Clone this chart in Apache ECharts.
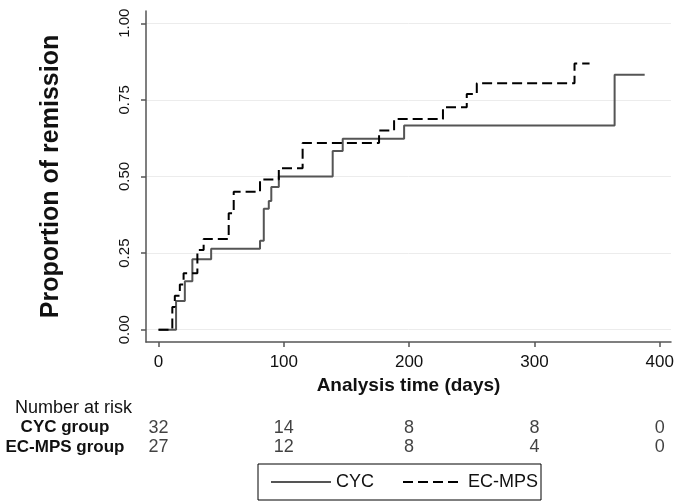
<!DOCTYPE html>
<html>
<head>
<meta charset="utf-8">
<script src="https://cdn.jsdelivr.net/npm/echarts@6/dist/echarts.min.js"></script>
<style>html,body{margin:0;padding:0;background:#fff}#c{width:679px;height:501px}</style>
</head>
<body>
<div id="c"></div>
<script>
// Kaplan-Meier steps: [time (days), proportion]
const cycTimes  = [0, 14, 21, 27, 42, 81, 84, 88, 90, 96, 139, 147, 196, 364, 388];
const cycValues = [0, 0.094, 0.158, 0.23, 0.264, 0.29, 0.395, 0.42, 0.466, 0.5, 0.583, 0.623, 0.666, 0.832, 0.832];
const ecTimes   = [0, 11, 13, 17, 20, 31, 36, 56, 60, 81, 96, 115, 176, 188, 227, 246, 254, 332, 344];
const ecValues  = [0, 0.074, 0.111, 0.148, 0.184, 0.26, 0.296, 0.38, 0.45, 0.49, 0.527, 0.609, 0.65, 0.688, 0.726, 0.769, 0.804, 0.869, 0.869];
const seriesNames = ['CYC', 'EC-MPS'];
const xTicks = [0, 100, 200, 300, 400];
const yTicks = [0, 0.25, 0.5, 0.75, 1];
const riskGroups = ['CYC group', 'EC-MPS group'];
const riskCYC = [32, 14, 8, 8, 0];
const riskEC  = [27, 12, 8, 4, 0];

const SANS = '"Liberation Sans", Arial, sans-serif';

const toPairs = (t, v) => t.map((x, i) => [x, v[i]]);
const riskData = [];
xTicks.forEach((t, i) => {
  riskData.push([t, riskGroups[0], riskCYC[i]]);
  riskData.push([t, riskGroups[1], riskEC[i]]);
});

const chart = echarts.init(document.getElementById('c'), null, {renderer: 'canvas'});
chart.setOption({
  animation: false,
  backgroundColor: '#fff',
  title: {
    text: 'Number at risk', left: 10, top: 394,
    textStyle: {fontFamily: SANS, fontWeight: 'normal', fontSize: 18, color: '#111'}
  },
  legend: {
    data: seriesNames,
    left: 258, top: 464,
    padding: [9, 3, 9, 12],
    itemWidth: 60, itemHeight: 14, itemGap: 28,
    itemStyle: {opacity: 0},
    borderColor: '#000', borderWidth: 1,
    textStyle: {fontFamily: SANS, fontSize: 18, color: '#111'}
  },
  grid: [
    {left: 146, right: 8, top: 11, height: 331, containLabel: false},
    {left: 146, right: 8, top: 418, height: 39, containLabel: false}
  ],
  xAxis: [{
    gridIndex: 0, type: 'value', min: -10, max: 409,
    name: 'Analysis time (days)', nameLocation: 'middle', nameGap: 32,
    nameTextStyle: {fontFamily: SANS, fontWeight: 'bold', fontSize: 19, color: '#111'},
    axisLine: {show: true, onZero: false, lineStyle: {color: '#555', width: 1.5}},
    axisTick: {show: true, length: 5, customValues: xTicks, lineStyle: {color: '#555', width: 1.5}},
    axisLabel: {customValues: xTicks, fontFamily: SANS, fontSize: 17, color: '#111', margin: 12},
    splitLine: {show: false}
  }, {
    gridIndex: 1, type: 'value', min: -10, max: 409, show: false
  }],
  yAxis: [{
    gridIndex: 0, type: 'value', min: -0.04, max: 1.04,
    name: 'Proportion of remission', nameLocation: 'middle', nameGap: 82, nameRotate: 90,
    nameTextStyle: {fontFamily: SANS, fontWeight: 'bold', fontSize: 25, color: '#111'},
    axisLine: {show: true, onZero: false, lineStyle: {color: '#555', width: 1.5}},
    axisTick: {show: true, length: 5, customValues: yTicks, lineStyle: {color: '#555', width: 1.5}},
    axisLabel: {customValues: yTicks, rotate: 90, fontFamily: SANS, fontSize: 15, color: '#111', margin: 14,
      formatter: v => Number(v).toFixed(2)},
    splitLine: {show: true, lineStyle: {color: '#ececec', width: 1}}
  }, {
    gridIndex: 1, type: 'category', data: riskGroups, inverse: true,
    axisLine: {show: false}, axisTick: {show: false}, splitLine: {show: false},
    axisLabel: {interval: 0, fontFamily: SANS, fontWeight: 'bold', fontSize: 17, color: '#111', align: 'center', margin: 81}
  }],
  series: [{
    name: seriesNames[0], type: 'line', xAxisIndex: 0, yAxisIndex: 0,
    step: 'end', symbol: 'none', data: toPairs(cycTimes, cycValues),
    lineStyle: {color: '#555', width: 2, type: 'solid'}, itemStyle: {color: '#555'}
  }, {
    name: seriesNames[1], type: 'line', xAxisIndex: 0, yAxisIndex: 0,
    step: 'end', symbol: 'none', data: toPairs(ecTimes, ecValues),
    lineStyle: {color: '#000', width: 2, type: [10, 5]}, itemStyle: {color: '#000'}
  }, {
    type: 'scatter', xAxisIndex: 1, yAxisIndex: 1, symbolSize: 0, silent: true,
    data: riskData,
    label: {show: true, position: 'inside', formatter: p => String(p.value[2]),
      fontFamily: SANS, fontSize: 18, color: '#111'}
  }]
});
</script>
</body>
</html>
